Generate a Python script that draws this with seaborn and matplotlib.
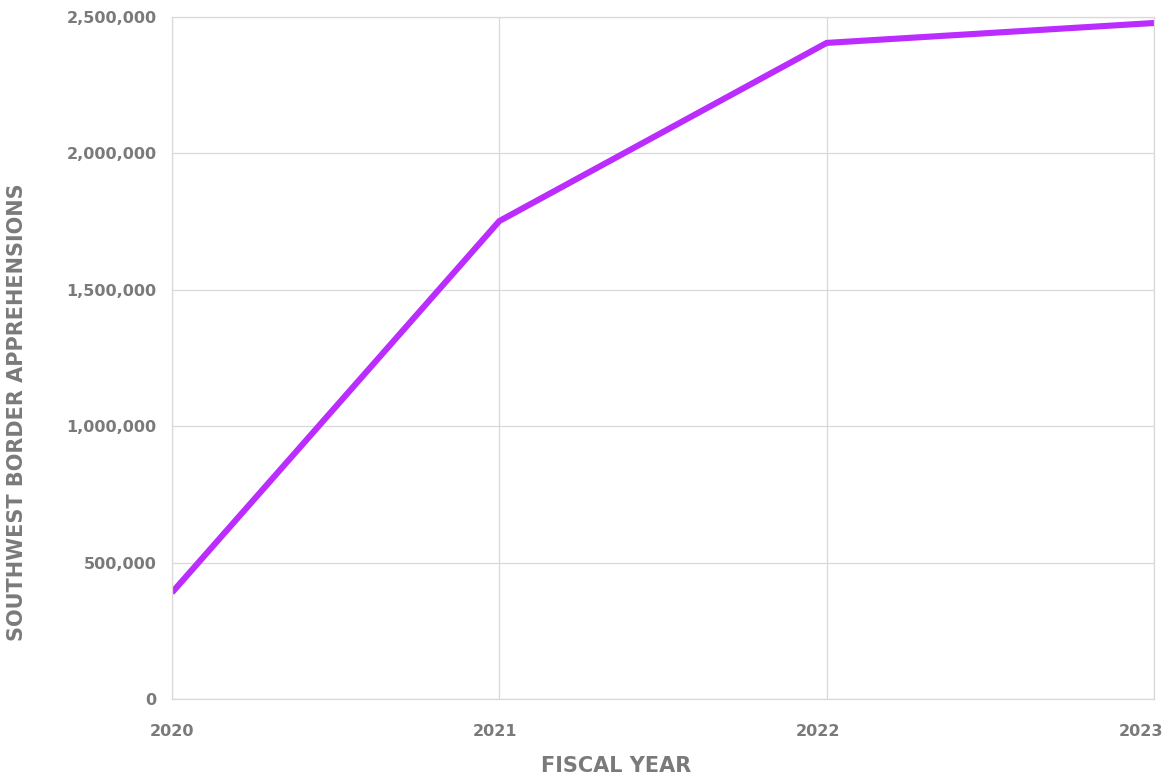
import matplotlib
matplotlib.use("Agg")
import matplotlib.pyplot as plt
import matplotlib.transforms as mtransforms
import seaborn as sns
import pandas as pd
from matplotlib.ticker import FuncFormatter

years = [2020, 2021, 2022, 2023]
apprehensions = [390000, 1752000, 2405000, 2478000]
y_ticks = [0, 500000, 1000000, 1500000, 2000000, 2500000]

df = pd.DataFrame({"Fiscal Year": years, "Apprehensions": apprehensions})

sns.set_theme(style="white")
plt.rcParams["font.family"] = ["DejaVu Sans"]

fig = plt.figure(figsize=(11.69, 7.76), dpi=100)
ax = fig.add_axes([0.1471, 0.0992, 0.8401, 0.8789])

sns.lineplot(data=df, x="Fiscal Year", y="Apprehensions", ax=ax,
             color="#bb2cff", linewidth=4.4, solid_capstyle="butt",
             solid_joinstyle="miter")

ax.set_xlim(years[0], years[-1])
ax.set_ylim(0, 2500000)
ax.set_xticks(years)
ax.set_xticklabels([str(y) for y in years])
ax.set_yticks(y_ticks)
ax.yaxis.set_major_formatter(FuncFormatter(lambda v, p: f"{int(v):,}"))

ax.grid(True, color="#d9d9d9", linewidth=0.9)
for s in ax.spines.values():
    s.set_color("#d9d9d9")
    s.set_linewidth(0.9)

gray = "#7a7a7a"
ax.tick_params(axis="x", length=0, pad=18, labelsize=11.5, labelcolor=gray)
ax.tick_params(axis="y", length=0, pad=11, labelsize=11.5, labelcolor=gray)
for lab in ax.get_xticklabels() + ax.get_yticklabels():
    lab.set_fontweight("bold")

# shift x tick labels slightly as in the reference
shifts = [0, -4, -9, -13]
for lab, dx in zip(ax.get_xticklabels(), shifts):
    lab.set_transform(lab.get_transform() +
                      mtransforms.ScaledTranslation(dx / 100, 0, fig.dpi_scale_trans))

ax.set_xlabel("FISCAL YEAR", fontsize=15, fontweight="bold", color=gray)
ax.set_ylabel("SOUTHWEST BORDER APPREHENSIONS", fontsize=15, fontweight="bold", color=gray)
ax.xaxis.set_label_coords(0.4521, -0.0835)
ax.yaxis.set_label_coords(-0.1477, 0.42)

fig.savefig("out.png", dpi=100, facecolor="white")
